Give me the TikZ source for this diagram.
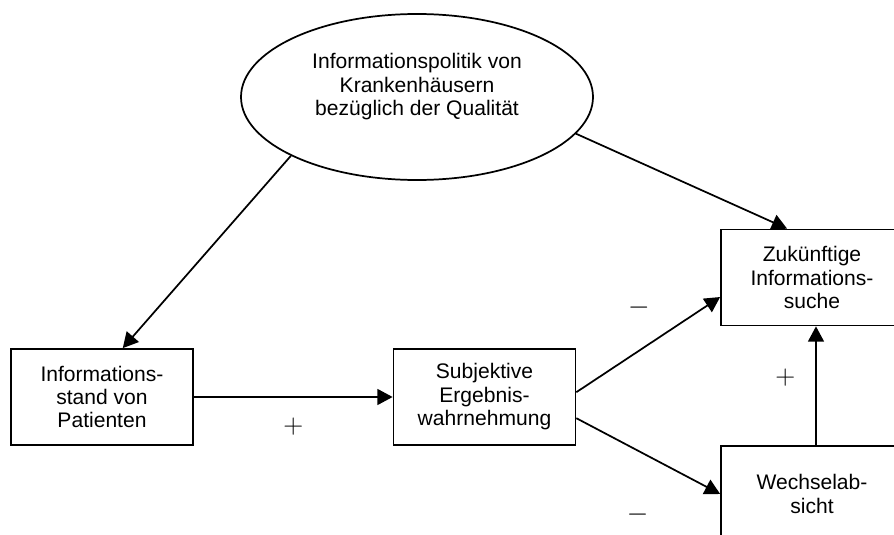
\documentclass[tikz,border=0pt]{standalone}
\usepackage{fontspec}
\setmainfont{Liberation Sans}
\usepackage{tikz}
\usetikzlibrary{shapes,arrows.meta}

\begin{document}
\begin{tikzpicture}[x=0.75pt, y=-0.75pt, line width=1.3pt,
      >={Triangle[length=11.5pt, width=12pt]},
      every edge/.style={draw, ->},
      txt/.style={font=\fontsize{15.8}{17.6}\selectfont},
      box/.style={txt, draw, rectangle, minimum width=136.5pt, minimum height=72pt, align=center},
      sign/.style={font=\fontsize{20}{24}\selectfont, midway}]
      \useasboundingbox (0, 0) rectangle (894, 535);
      \clip (0, 0) rectangle (894, 535);
      \node (politik) [draw, ellipse, minimum width=264pt, minimum height=124.5pt,
            label={[txt, align=center, yshift=7.5pt]center:{Informationspolitik von\\Krankenhäusern\\bezüglich der Qualität}}] at (417, 97) {};
      \node (stand) [box] at (102, 397) {Informations-\\stand von\\Patienten};
      \node (wahrn) [box] at (484.5, 397) {Subjektive\\Ergebnis-\\wahrnehmung};
      \node (suche) [box] at (812, 277.5) {Zukünftige\\Informations-\\suche};
      \node (wechsel) [box] at (812, 494) {Wechselab-\\sicht};
      \path (politik.205) edge (stand.67)
            (politik.347) edge (suche.117)
            (stand) edge node [sign, yshift=-22.5pt] {$+$} (wahrn)
            (wahrn.3) edge node [sign, xshift=-7pt, yshift=28pt] {$-$} (suche.192)
            (wahrn.-13) edge node [sign, xshift=-8pt, yshift=-43.5pt] {$-$} (wechsel.west)
            ([xshift=3pt]wechsel.north) edge node [sign, xshift=-23pt, yshift=6pt] {$+$} ([xshift=3pt]suche.south);
\end{tikzpicture}
\end{document}
